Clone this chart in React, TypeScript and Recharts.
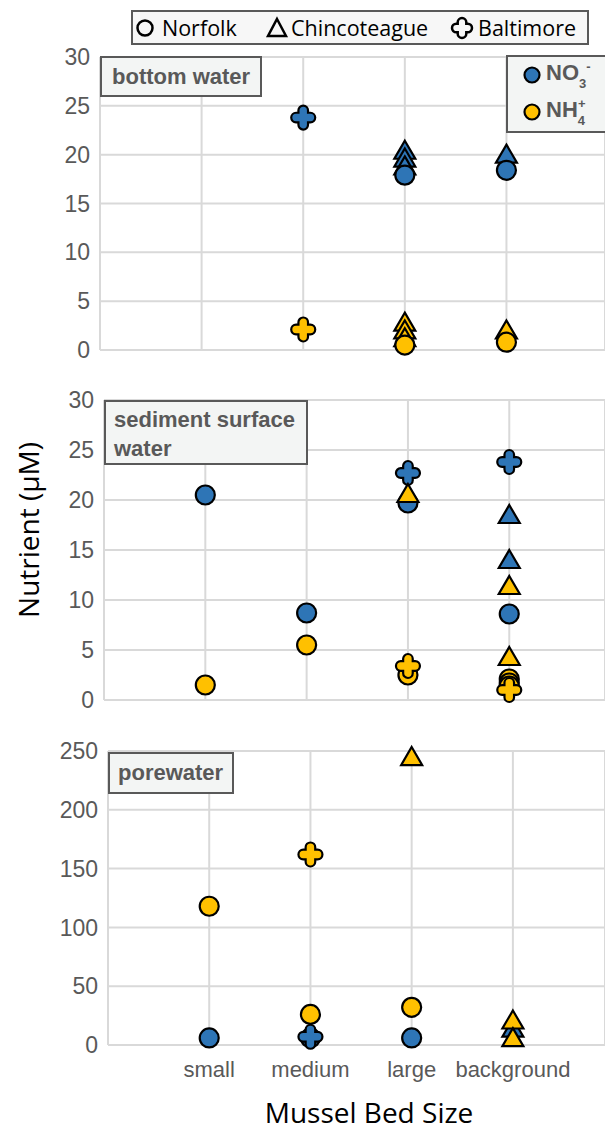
import { ScatterChart, Scatter, XAxis, YAxis, CartesianGrid } from "recharts";

type Pt = [string, number];

const beds = ["small", "medium", "large", "background"];

const BLUE = "#2e75b6";
const YELLOW = "#ffc000";
const GRID = "#d9d9d9";
const GREY_TEXT = "#595959";

// bottom water (µM)
const bottomNorfolkNO3: Pt[] = [["large", 17.9], ["background", 18.4]];
const bottomNorfolkNH4: Pt[] = [["large", 0.5], ["background", 0.8]];
const bottomChincoNO3: Pt[] = [["large", 20.3], ["large", 19.5], ["large", 18.7], ["background", 19.9]];
const bottomChincoNH4: Pt[] = [["large", 2.7], ["large", 1.9], ["large", 1.1], ["background", 1.9]];
const bottomBaltNO3: Pt[] = [["medium", 23.8]];
const bottomBaltNH4: Pt[] = [["medium", 2.1]];

// sediment surface water
const surfNorfolkNO3: Pt[] = [["small", 20.5], ["medium", 8.7], ["large", 19.7], ["background", 8.6]];
const surfNorfolkNH4: Pt[] = [["small", 1.5], ["medium", 5.5], ["large", 2.5], ["background", 2.1], ["background", 1.7], ["background", 1.4]];
const surfChincoNO3: Pt[] = [["background", 18.4], ["background", 13.9]];
const surfChincoNH4: Pt[] = [["large", 20.5], ["background", 11.3], ["background", 4.2]];
const surfBaltNO3: Pt[] = [["large", 22.7], ["background", 23.8]];
const surfBaltNH4: Pt[] = [["large", 3.4], ["background", 1.0]];

// porewater
const poreNorfolkNO3: Pt[] = [["small", 6], ["medium", 6], ["large", 6]];
const poreNorfolkNH4: Pt[] = [["small", 118], ["medium", 26], ["large", 32]];
const poreChincoNO3: Pt[] = [["background", 13]];
const poreChincoNH4: Pt[] = [["large", 244], ["background", 20], ["background", 5]];
const poreBaltNO3: Pt[] = [["medium", 7]];
const poreBaltNH4: Pt[] = [["medium", 162]];

const ticks30 = [0, 5, 10, 15, 20, 25, 30];
const ticks250 = [0, 50, 100, 150, 200, 250];

const toXY = (pts: Pt[]) => pts.map(([bed, v]) => ({ x: beds.indexOf(bed) + 1, y: v }));

const circleShape = (color: string) => (p: any) => (
  <circle cx={p.cx} cy={p.cy} r={9.5} fill={color} stroke="#000" strokeWidth={2.2} />
);

const triangleShape = (color: string) => (p: any) => (
  <path
    d={`M${p.cx},${p.cy - 11} L${p.cx + 10.5},${p.cy + 7} L${p.cx - 10.5},${p.cy + 7} Z`}
    fill={color}
    stroke="#000"
    strokeWidth={2.2}
  />
);

function crossPath(cx: number, cy: number, a: number, e: number) {
  const b = e - a;
  return (
    `M${cx - a},${cy - b} A${a},${a} 0 0 1 ${cx + a},${cy - b} L${cx + a},${cy - a} L${cx + b},${cy - a} ` +
    `A${a},${a} 0 0 1 ${cx + b},${cy + a} L${cx + a},${cy + a} L${cx + a},${cy + b} ` +
    `A${a},${a} 0 0 1 ${cx - a},${cy + b} L${cx - a},${cy + a} L${cx - b},${cy + a} ` +
    `A${a},${a} 0 0 1 ${cx - b},${cy - a} L${cx - a},${cy - a} Z`
  );
}

const crossShape = (color: string) => (p: any) => (
  <path d={crossPath(p.cx, p.cy, 4.8, 12)} fill={color} stroke="#000" strokeWidth={2.2} />
);

const emptyTick = () => <g />;

type PanelProps = {
  top: number;
  height: number;
  plotTop: number;
  plotBottom: number;
  left: number;
  xMax: number;
  yMax: number;
  yTicks: number[];
  showX?: boolean;
  series: { no3: Pt[][]; nh4: Pt[][] };
};

function Panel({ top, height, plotTop, plotBottom, left, xMax, yMax, yTicks, showX, series }: PanelProps) {
  // draw order: NO3 triangles, circles, crosses, then NH4 the same way
  const order = [
    { pts: series.no3[1], shape: triangleShape(BLUE) },
    { pts: series.no3[0], shape: circleShape(BLUE) },
    { pts: series.no3[2], shape: crossShape(BLUE) },
    { pts: series.nh4[1], shape: triangleShape(YELLOW) },
    { pts: series.nh4[0], shape: circleShape(YELLOW) },
    { pts: series.nh4[2], shape: crossShape(YELLOW) },
  ];
  return (
    <div style={{ position: "absolute", left: 0, top }}>
      <ScatterChart
        width={605}
        height={height}
        margin={{ top: plotTop, right: 0, bottom: plotBottom, left: 0 }}
      >
        <CartesianGrid stroke={GRID} strokeWidth={2} />
        <XAxis
          type="number"
          dataKey="x"
          domain={[0, xMax]}
          ticks={[1, 2, 3, 4]}
          interval={0}
          tickFormatter={(i: number) => beds[i - 1]}
          axisLine={{ stroke: GRID, strokeWidth: 2 }}
          tickLine={false}
          tick={showX ? { fill: GREY_TEXT, fontSize: 22, fontFamily: "Liberation Sans, Arial" } : emptyTick}
          tickMargin={10}
          height={showX ? 40 : 2}
        />
        <YAxis
          type="number"
          dataKey="y"
          domain={[0, yMax]}
          ticks={yTicks}
          interval={0}
          width={left}
          axisLine={{ stroke: GRID, strokeWidth: 2 }}
          tickLine={false}
          tickMargin={4}
          tick={{ fill: GREY_TEXT, fontSize: 23, fontFamily: "Liberation Sans, Arial" }}
        />
        {order.map((s, i) => (
          <Scatter key={i} data={toXY(s.pts)} shape={s.shape} isAnimationActive={false} />
        ))}
      </ScatterChart>
    </div>
  );
}

const boxStyle = {
  position: "absolute" as const,
  boxSizing: "border-box" as const,
  border: `2px solid ${GREY_TEXT}`,
  background: "#f3f5f4",
  color: GREY_TEXT,
  fontFamily: "Liberation Sans, Arial",
  fontWeight: 700,
  fontSize: 22,
};

function TopLegend() {
  const text = { position: "absolute" as const, top: 1, fontFamily: "Open Sans", fontSize: 21.5, color: "#000" };
  return (
    <div style={{ position: "absolute", left: 131, top: 10, width: 458, height: 35, boxSizing: "border-box", border: "2px solid #595959", background: "#f7f7f7" }}>
      <svg width={454} height={31} style={{ position: "absolute", left: 0, top: 0 }}>
        <circle cx={12} cy={16} r={7.5} fill="none" stroke="#000" strokeWidth={2.5} />
        <path d="M144,7 L153,24 L135,24 Z" fill="none" stroke="#000" strokeWidth={2.5} />
        <path d={crossPath(329, 16, 4.3, 10)} fill="none" stroke="#000" strokeWidth={2.5} />
      </svg>
      <span style={{ ...text, left: 29 }}>Norfolk</span>
      <span style={{ ...text, left: 158 }}>Chincoteague</span>
      <span style={{ ...text, left: 345 }}>Baltimore</span>
    </div>
  );
}

function NutrientLegend() {
  const row = { position: "absolute" as const, left: 38, fontSize: 22 };
  const small = { fontSize: 13, position: "relative" as const };
  return (
    <div style={{ ...boxStyle, left: 506, top: 55, width: 110, height: 78 }}>
      <svg width={30} height={78} style={{ position: "absolute", left: 14, top: -2 }}>
        <circle cx={10} cy={20} r={7.5} fill={BLUE} stroke="#000" strokeWidth={2.2} />
        <circle cx={10} cy={57} r={7.5} fill={YELLOW} stroke="#000" strokeWidth={2.2} />
      </svg>
      <div style={{ ...row, top: 3 }}>
        NO<span style={{ ...small, top: 8 }}>3</span>
        <span style={{ ...small, top: -9 }}>-</span>
      </div>
      <div style={{ ...row, top: 40 }}>
        NH<span style={{ ...small, top: 8 }}>4</span>
        <span style={{ ...small, top: -9, left: -7 }}>+</span>
      </div>
    </div>
  );
}

export default function App() {
  return (
    <div style={{ position: "absolute", left: 0, top: 0, width: 605, height: 1132, overflow: "hidden", background: "#fff" }}>
      <Panel
        top={0}
        height={366}
        plotTop={57}
        plotBottom={14}
        left={100}
        xMax={4.97}
        yMax={30}
        yTicks={ticks30}
        series={{
          no3: [bottomNorfolkNO3, bottomChincoNO3, bottomBaltNO3],
          nh4: [bottomNorfolkNH4, bottomChincoNH4, bottomBaltNH4],
        }}
      />
      <Panel
        top={360}
        height={356}
        plotTop={40}
        plotBottom={14}
        left={104}
        xMax={4.945}
        yMax={30}
        yTicks={ticks30}
        series={{
          no3: [surfNorfolkNO3, surfChincoNO3, surfBaltNO3],
          nh4: [surfNorfolkNH4, surfChincoNH4, surfBaltNH4],
        }}
      />
      <Panel
        top={710}
        height={375}
        plotTop={41}
        plotBottom={0}
        left={108}
        xMax={4.91}
        yMax={250}
        yTicks={ticks250}
        showX
        series={{
          no3: [poreNorfolkNO3, poreChincoNO3, poreBaltNO3],
          nh4: [poreNorfolkNH4, poreChincoNH4, poreBaltNH4],
        }}
      />

      <div style={{ ...boxStyle, left: 100, top: 56, width: 162, height: 41, padding: "6px 0 0 10px" }}>bottom water</div>
      <div style={{ ...boxStyle, left: 104, top: 400, width: 204, height: 65, padding: "3px 0 0 8px", lineHeight: "29px" }}>
        sediment surface
        <br />
        water
      </div>
      <div style={{ ...boxStyle, left: 108, top: 752, width: 126, height: 42, padding: "6px 0 0 8px" }}>porewater</div>

      <NutrientLegend />
      <TopLegend />

      <div
        style={{
          position: "absolute",
          left: -122,
          top: 512,
          width: 300,
          height: 36,
          lineHeight: "36px",
          textAlign: "center",
          transform: "rotate(-90deg)",
          fontFamily: "Open Sans",
          fontSize: 28,
          color: "#000",
        }}
      >
        Nutrient (µM)
      </div>
      <div
        style={{
          position: "absolute",
          left: 169,
          top: 1093,
          width: 400,
          lineHeight: "38px",
          textAlign: "center",
          fontFamily: "Open Sans",
          fontSize: 28,
          color: "#000",
        }}
      >
        Mussel Bed Size
      </div>
    </div>
  );
}
